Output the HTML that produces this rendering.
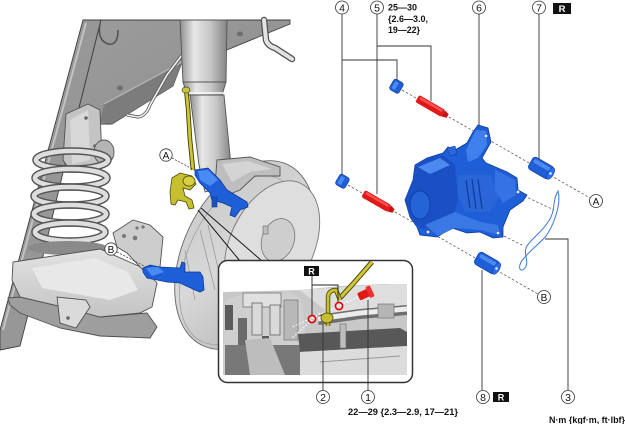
<!DOCTYPE html>
<html><head><meta charset="utf-8"><style>
html,body{margin:0;padding:0;background:#fff;}
svg{display:block;}
text{font-family:"Liberation Sans",Arial,sans-serif;}
</style></head><body>
<svg width="625" height="424" viewBox="0 0 625 424" xmlns="http://www.w3.org/2000/svg">
<defs>
 <linearGradient id="strutG" x1="0" y1="0" x2="1" y2="0">
  <stop offset="0" stop-color="#8e8e8e"/><stop offset="0.3" stop-color="#e8e8e8"/><stop offset="0.65" stop-color="#c6c6c6"/><stop offset="1" stop-color="#858585"/>
 </linearGradient>
 <linearGradient id="frameG" x1="0" y1="0" x2="1" y2="1">
  <stop offset="0" stop-color="#9c9c9c"/><stop offset="1" stop-color="#8c8c8c"/>
 </linearGradient>
 <linearGradient id="shieldG" x1="0" y1="0" x2="1" y2="1">
  <stop offset="0" stop-color="#c6c6c6"/><stop offset="0.5" stop-color="#d8d8d8"/><stop offset="1" stop-color="#b4b4b4"/>
 </linearGradient>
 <linearGradient id="armG" x1="0" y1="0" x2="0" y2="1">
  <stop offset="0" stop-color="#e2e2e2"/><stop offset="1" stop-color="#c4c4c4"/>
 </linearGradient>
 <clipPath id="photoClip"><rect x="223" y="284" width="184" height="91"/></clipPath>
</defs>

<!-- frame wall -->
<polygon points="83,20 101,20 66,160 44,252 20,346 0,350 0,330" fill="#979797" stroke="#3e3e3e" stroke-width="0.9"/>
<line x1="86" y1="23" x2="3" y2="330" stroke="#c2c2c2" stroke-width="2"/>
<!-- frame body -->
<polygon points="101,20 290,20 290,24 222,52 182,62 173,86 112,124 98,124 66,160" fill="url(#frameG)" stroke="#3e3e3e" stroke-width="0.9"/>
<polygon points="182,62 173,86 112,124 100,122 104,104 160,74" fill="#7c7c7c"/>
<polyline points="104,104 160,74 182,62" fill="none" stroke="#b8b8b8" stroke-width="1.2"/>
<path d="M100,24 Q97,40 108,44 Q118,46 118,30" fill="none" stroke="#505050" stroke-width="1.5"/>
<ellipse cx="240" cy="34" rx="3" ry="2.5" fill="#6e6e6e"/>
<ellipse cx="120" cy="88" rx="3" ry="2.5" fill="#6e6e6e"/>
<path d="M264,20 L266,40 Q268,46 275,48 L292,59" fill="none" stroke="#505050" stroke-width="6.5" stroke-linecap="round"/>
<path d="M264,20 L266,40 Q268,46 275,48 L292,59" fill="none" stroke="#e2e2e2" stroke-width="4" stroke-linecap="round"/>
<path d="M182,55 L167,75 L150,105 Q146,116 138,117 L127,115" fill="none" stroke="#555" stroke-width="3.2"/>
<path d="M182,55 L167,75 L150,105 Q146,116 138,117 L127,115" fill="none" stroke="#f2f2f2" stroke-width="1.6"/>

<!-- spring tower bracket -->
<polygon points="66,114 88,104 100,110 102,160 94,168 70,170 63,160" fill="#c4c4c4" stroke="#505050" stroke-width="0.9"/>
<polygon points="70,120 88,110 90,160 72,164" fill="#d8d8d8"/>
<circle cx="86" cy="118" r="1.8" fill="#666"/><circle cx="95" cy="146" r="1.8" fill="#666"/>
<ellipse cx="104" cy="152" rx="10" ry="12" fill="#b4b4b4" stroke="#555" stroke-width="0.9"/>

<!-- spring -->
<g fill="none">
 <ellipse cx="72" cy="160" rx="36" ry="9" stroke="#555" stroke-width="7.5"/>
 <ellipse cx="72" cy="160" rx="36" ry="9" stroke="#dedede" stroke-width="4.6"/>
 <ellipse cx="71" cy="178" rx="36" ry="9" stroke="#555" stroke-width="7.5"/>
 <ellipse cx="71" cy="178" rx="36" ry="9" stroke="#dedede" stroke-width="4.6"/>
 <ellipse cx="70" cy="196" rx="36" ry="9" stroke="#555" stroke-width="7.5"/>
 <ellipse cx="70" cy="196" rx="36" ry="9" stroke="#dedede" stroke-width="4.6"/>
 <ellipse cx="70" cy="214" rx="36" ry="9" stroke="#555" stroke-width="7.5"/>
 <ellipse cx="70" cy="214" rx="36" ry="9" stroke="#dedede" stroke-width="4.6"/>
 <ellipse cx="70" cy="232" rx="35" ry="9" stroke="#555" stroke-width="7.5"/>
 <ellipse cx="70" cy="232" rx="35" ry="9" stroke="#dedede" stroke-width="4.6"/>
</g>
<ellipse cx="68" cy="248" rx="40" ry="7" fill="#8a8a8a"/>

<!-- lower arm -->
<polygon points="8,298 20,297 63,307 100,317 147,313 157,327 150,338 100,336 60,328 20,313 10,305" fill="#9e9e9e" stroke="#505050" stroke-width="0.9"/>
<polygon points="13,262 100,249 143,268 157,283 152,307 140,313 100,317 63,307 20,297 12,280" fill="url(#armG)" stroke="#505050" stroke-width="0.9"/>
<polygon points="32,268 95,258 128,272 138,290 110,300 42,288" fill="#e8e8e8"/>
<polygon points="57,297 60,323 76,328 90,307 86,300" fill="#dadada" stroke="#505050" stroke-width="0.9"/>
<circle cx="68" cy="318" r="1.8" fill="#666"/>
<polygon points="113,233 133,220 150,225 163,237 160,267 143,270 127,253 117,247" fill="#cdcdcd" stroke="#505050" stroke-width="0.9"/>
<circle cx="124" cy="236" r="2" fill="#777"/><circle cx="135" cy="238" r="2.3" fill="#777"/><circle cx="137" cy="228" r="1.6" fill="#777"/><circle cx="143" cy="227" r="1.6" fill="#777"/>

<!-- dust shield & rotor -->
<ellipse cx="245" cy="255" rx="62" ry="100" transform="rotate(25 245 255)" fill="url(#shieldG)" stroke="#666" stroke-width="0.9"/>
<ellipse cx="240" cy="260" rx="52" ry="90" transform="rotate(25 240 260)" fill="none" stroke="#a0a0a0" stroke-width="0.8"/>
<ellipse cx="272" cy="245" rx="42" ry="68" transform="rotate(25 272 245)" fill="#dedede" stroke="#777" stroke-width="0.9"/>
<ellipse cx="278" cy="240" rx="16" ry="22" transform="rotate(20 278 240)" fill="#cecece" stroke="#777" stroke-width="0.8"/>
<rect x="263" y="226" width="5" height="8" fill="#bdbdbd" stroke="#666" stroke-width="0.6"/>
<g stroke="#888" stroke-width="0.6">
 <line x1="200" y1="230" x2="215" y2="290"/><line x1="208" y1="225" x2="222" y2="285"/><line x1="185" y1="250" x2="195" y2="300"/>
</g>

<!-- strut -->
<polygon points="180,20 227,20 226,82 183,82" fill="url(#strutG)" stroke="#555" stroke-width="0.9"/>
<polygon points="183,82 226,82 222,95 187,95" fill="url(#strutG)" stroke="#555" stroke-width="0.9"/>
<line x1="186" y1="93" x2="223" y2="93" stroke="#fafafa" stroke-width="1.6"/>
<polygon points="190,95 224,95 231,165 222,188 205,192 199,165" fill="url(#strutG)" stroke="#555" stroke-width="0.9"/>
<polygon points="217,160 250,157 280,167 280,176 255,176 240,190 225,196 215,185" fill="#bebebe" stroke="#555" stroke-width="0.9"/>
<polygon points="222,164 248,161 272,169 250,172 232,182" fill="#d4d4d4"/>

<!-- yellow hose -->
<path d="M186,88 L188,108 L190,140 L193,170" fill="none" stroke="#3f3f00" stroke-width="4.6"/>
<path d="M186,88 L188,108 L190,140 L193,170" fill="none" stroke="#cdc43a" stroke-width="2.8"/>
<ellipse cx="186" cy="90" rx="4" ry="3" fill="#cdc43a" stroke="#444" stroke-width="0.7"/>
<polygon points="172,178 180,173 192,176 196,184 190,190 183,188 185,196 192,200 194,208 189,209 186,202 178,200 175,205 171,204 170,192" fill="#c8bf30" stroke="#4a4a10" stroke-width="0.8"/>
<ellipse cx="189" cy="181" rx="6" ry="5" fill="#d8d040" stroke="#4a4a10" stroke-width="0.8"/>

<!-- blue brackets -->
<polygon points="195,170 208,168 220,180 227,190 247,202 248,207 240,210 235,217 230,215 232,207 223,203 212,200 210,193 200,183 195,175" fill="#1e5fd8" stroke="#0c3a9a" stroke-width="0.8"/>
<polygon points="198,171 208,170 218,180 210,186 200,180" fill="#4a8af4"/>
<rect x="212" y="197" width="5" height="10" fill="#1a52c4" stroke="#0c3a9a" stroke-width="0.6"/>
<polygon points="143,268 150,265 160,267 180,268 182,262 185,263 185,272 200,272 203,277 204,290 200,292 195,290 180,283 167,282 157,280 147,278 143,272" fill="#1e5fd8" stroke="#0c3a9a" stroke-width="0.8"/>
<polygon points="146,268 158,267 164,272 152,276" fill="#4a8af4"/>

<line x1="172" y1="158" x2="196" y2="171" stroke="#444" stroke-width="0.8" stroke-dasharray="2 1.5"/>
<line x1="117" y1="252" x2="146" y2="267" stroke="#444" stroke-width="0.8" stroke-dasharray="2 1.5"/>
<circle cx="166" cy="155" r="6.2" fill="#fff" stroke="#333" stroke-width="0.8"/>
<text x="166" y="159" font-size="10" text-anchor="middle" fill="#111">A</text>
<circle cx="111" cy="249" r="6.2" fill="#fff" stroke="#333" stroke-width="0.8"/>
<text x="111" y="253" font-size="10" text-anchor="middle" fill="#111">B</text>

<line x1="198" y1="210" x2="240" y2="261" stroke="#1a1a1a" stroke-width="1"/>
<line x1="201" y1="208" x2="262" y2="261" stroke="#1a1a1a" stroke-width="1"/>

<!-- INSET -->
<rect x="218.5" y="260.5" width="194" height="122" rx="9" fill="#fff" stroke="#333" stroke-width="1.5"/>
<g clip-path="url(#photoClip)">
 <polygon points="223,292 300,290 340,286 407,283 407,375 223,375" fill="#c8c8c8"/>
 <polygon points="300,290 407,283 407,312 330,314" fill="#dedede"/>
 <polygon points="225,300 250,292 290,292 302,300 306,340 296,375 223,375" fill="#cfcfcf"/>
 <rect x="243" y="293" width="38" height="14" fill="#e0e0e0" stroke="#666" stroke-width="0.7"/>
 <rect x="252" y="303" width="10" height="32" fill="#d9d9d9" stroke="#555" stroke-width="0.7"/>
 <rect x="270" y="305" width="10" height="30" fill="#d9d9d9" stroke="#555" stroke-width="0.7"/>
 <rect x="225" y="305" width="8" height="25" fill="#5c5c5c"/>
 <rect x="238" y="318" width="9" height="40" fill="#6a6a6a"/>
 <rect x="262" y="336" width="7" height="39" fill="#5a5a5a"/>
 <polygon points="225,345 300,345 305,375 225,375" fill="#787878"/>
 <polygon points="245,340 270,338 285,375 250,375" fill="#bdbdbd"/>
 <rect x="284" y="300" width="14" height="40" fill="#b8b8b8" stroke="#666" stroke-width="0.6"/>
 <polygon points="298,334 400,328 407,332 407,346 300,352" fill="#585858"/>
 <polygon points="300,352 407,346 407,375 300,375" fill="#dcdcdc"/>
 <line x1="320" y1="362" x2="400" y2="356" stroke="#999" stroke-width="1"/>
 <path d="M318,320 L360,314 L407,310" fill="none" stroke="#6e6e6e" stroke-width="10"/>
 <path d="M318,319 L360,313 L407,309" fill="none" stroke="#ececec" stroke-width="5"/>
 <rect x="378" y="304" width="16" height="14" fill="#b5b5b5" stroke="#666" stroke-width="0.6"/>
 <rect x="340" y="324" width="6" height="24" fill="#bdbdbd" stroke="#666" stroke-width="0.6"/>
</g>
<line x1="358" y1="297" x2="292" y2="327" stroke="#fff" stroke-width="0.9" stroke-dasharray="2 1.5"/>
<line x1="320" y1="313" x2="292" y2="338" stroke="#fff" stroke-width="0.9" stroke-dasharray="2 1.5"/>
<path d="M340,298 L352,285 L372,262" fill="none" stroke="#3f3f00" stroke-width="5"/>
<path d="M340,298 L352,285 L372,262" fill="none" stroke="#cdc43a" stroke-width="3.2"/>
<path d="M328,326 L328,298 Q328,290 336,290 L340,300" fill="none" stroke="#4a4a10" stroke-width="4.5"/>
<path d="M328,326 L328,298 Q328,290 336,290 L340,300" fill="none" stroke="#c8bf30" stroke-width="2.8"/>
<ellipse cx="327" cy="318" rx="6" ry="5" fill="#c8bf30" stroke="#4a4a10" stroke-width="0.8"/>
<g transform="translate(365,294) rotate(-25)">
 <rect x="-7" y="-4" width="13" height="8" rx="1.5" fill="#e01818"/>
 <rect x="3" y="-6" width="5" height="12" rx="1.5" fill="#f03030"/>
</g>
<circle cx="312" cy="319" r="3.6" fill="none" stroke="#e00000" stroke-width="1.6"/>
<circle cx="339" cy="306" r="3.6" fill="none" stroke="#e00000" stroke-width="1.6"/>
<polyline points="312,276 312,315" fill="none" stroke="#222" stroke-width="0.9"/>
<polyline points="312,285 338,285 338,302" fill="none" stroke="#222" stroke-width="0.9"/>
<rect x="304" y="266" width="15" height="10" fill="#111"/>
<text x="311.5" y="274.5" font-size="9" font-weight="bold" text-anchor="middle" fill="#fff">R</text>

<line x1="323" y1="324" x2="323" y2="390.5" stroke="#333" stroke-width="0.9"/>
<line x1="368" y1="300" x2="368" y2="390.5" stroke="#333" stroke-width="0.9"/>

<!-- RIGHT EXPLODED VIEW -->
<g stroke="#555" stroke-width="0.75" stroke-dasharray="2.5 2" fill="none">
 <line x1="402" y1="90" x2="590" y2="198"/>
 <line x1="348" y1="185" x2="538" y2="294"/>
 <line x1="520" y1="194" x2="554" y2="210"/>
 <line x1="500" y1="234" x2="522" y2="245"/>
</g>
<g stroke="#333" stroke-width="0.9" fill="none">
 <polyline points="342,14 342,177"/>
 <polyline points="342,60 397,60 397,80"/>
 <polyline points="377,14 377,194"/>
 <polyline points="377,46 431,46 431,101"/>
 <polyline points="479,14 479,126"/>
 <polyline points="539,14 539,160"/>
 <polyline points="482,390 482,270"/>
 <polyline points="568,390 568,239 545,239"/>
</g>

<g transform="translate(396,86) rotate(30)">
 <rect x="-5" y="-6" width="11" height="12" rx="2.5" fill="#1e5fd8" stroke="#0c3a9a" stroke-width="0.6"/>
 <rect x="-3" y="-4" width="4" height="8" fill="#4a8af4"/>
</g>
<g transform="translate(342,181) rotate(30)">
 <rect x="-5" y="-6" width="11" height="12" rx="2.5" fill="#1e5fd8" stroke="#0c3a9a" stroke-width="0.6"/>
 <rect x="-3" y="-4" width="4" height="8" fill="#4a8af4"/>
</g>
<g transform="translate(432,107) rotate(30)">
 <rect x="-17" y="-4" width="30" height="8" rx="2" fill="#e01818"/>
 <polygon points="13,-3.5 18,-2 18,2 13,3.5" fill="#c81010"/>
 <rect x="-15" y="-3" width="26" height="2.5" fill="#ff5050"/>
</g>
<g transform="translate(378,202) rotate(30)">
 <rect x="-17" y="-4" width="30" height="8" rx="2" fill="#e01818"/>
 <polygon points="13,-3.5 18,-2 18,2 13,3.5" fill="#c81010"/>
 <rect x="-15" y="-3" width="26" height="2.5" fill="#ff5050"/>
</g>

<!-- caliper -->
<polygon points="478,125 488,128 491,142 482,158 486,163 507,172 517,178 518,190 527,195 523,201 510,210 503,227 503,237 493,238 480,232 467,233 452,228 437,237 420,235 417,227 410,217 405,200 413,180 415,165 427,158 443,153 448,147 455,150 467,143 473,132" fill="#1e5fd8" stroke="#0c3a9a" stroke-width="0.8"/>
<polygon points="413,180 415,165 427,158 443,155 455,165 458,200 452,222 437,230 420,228 410,217 405,200" fill="#1a50c4"/>
<polygon points="418,167 440,158 450,165 430,174" fill="#4d8af0"/>
<ellipse cx="420" cy="205" rx="10" ry="14" fill="#2464d8" stroke="#0e3c9e" stroke-width="0.7"/>
<polygon points="476,130 486,131 487,145 478,158 468,162 466,150" fill="#3f80ee"/>
<polygon points="458,175 490,175 500,195 490,212 465,212 458,195" fill="#2a66d8"/>
<g stroke="#103a9a" stroke-width="1.2">
 <line x1="466" y1="180" x2="470" y2="208"/><line x1="472" y1="179" x2="476" y2="209"/><line x1="478" y1="179" x2="482" y2="209"/>
</g>
<polygon points="495,170 515,180 516,195 503,203 495,190" fill="#3572e4"/>
<polygon points="425,225 455,212 480,222 498,225 500,235 480,230 455,228 438,236" fill="#3a78e6"/>
<polygon points="447,148 455,146 457,154 450,156" fill="#2a66d8" stroke="#0c3a9a" stroke-width="0.5"/>
<g fill="#dfe9ff" stroke="#0c3a9a" stroke-width="0.5">
 <circle cx="486" cy="136" r="1.8"/><circle cx="518" cy="192" r="1.8"/><circle cx="428" cy="232" r="1.8"/><circle cx="498" cy="233" r="1.8"/>
</g>

<g transform="translate(541,168) rotate(30)">
 <rect x="-12" y="-7" width="24" height="14" rx="3.5" fill="#1e5fd8" stroke="#0c3a9a" stroke-width="0.6"/>
 <rect x="-10" y="-5" width="19" height="4" rx="2" fill="#4d8af0"/>
 <ellipse cx="11" cy="0" rx="3" ry="6.5" fill="#2a6cf0" stroke="#0c3a9a" stroke-width="0.5"/>
 <circle cx="11" cy="0" r="1.3" fill="#dfe9ff"/>
</g>
<g transform="translate(487,263) rotate(30)">
 <rect x="-12" y="-7" width="24" height="14" rx="3.5" fill="#1e5fd8" stroke="#0c3a9a" stroke-width="0.6"/>
 <rect x="-10" y="-5" width="19" height="4" rx="2" fill="#4d8af0"/>
 <ellipse cx="11" cy="0" rx="3" ry="6.5" fill="#2a6cf0" stroke="#0c3a9a" stroke-width="0.5"/>
 <circle cx="11" cy="0" r="1.3" fill="#dfe9ff"/>
</g>

<path d="M558,191 C552,200 556,212 548,222 C542,232 532,238 527,246 C522,254 531,262 524,269 C519,273 517,265 525,257 C533,248 541,242 546,236 C552,228 562,205 558,191 Z" fill="none" stroke="#3a7ad8" stroke-width="1"/>

<circle cx="596" cy="201" r="6.5" fill="#fff" stroke="#333" stroke-width="0.8"/>
<text x="596" y="205" font-size="10" text-anchor="middle" fill="#111">A</text>
<circle cx="544" cy="297" r="6.5" fill="#fff" stroke="#333" stroke-width="0.8"/>
<text x="544" y="301" font-size="10" text-anchor="middle" fill="#111">B</text>

<g font-size="10.5" text-anchor="middle" fill="#111">
 <circle cx="342" cy="7.5" r="6.5" fill="#fff" stroke="#333" stroke-width="0.8"/><text x="342" y="11.5">4</text>
 <circle cx="377" cy="7.5" r="6.5" fill="#fff" stroke="#333" stroke-width="0.8"/><text x="377" y="11.5">5</text>
 <circle cx="479" cy="7.5" r="6.5" fill="#fff" stroke="#333" stroke-width="0.8"/><text x="479" y="11.5">6</text>
 <circle cx="539" cy="7.5" r="6.5" fill="#fff" stroke="#333" stroke-width="0.8"/><text x="539" y="11.5">7</text>
 <circle cx="323" cy="397" r="6.5" fill="#fff" stroke="#333" stroke-width="0.8"/><text x="323" y="401">2</text>
 <circle cx="368" cy="397" r="6.5" fill="#fff" stroke="#333" stroke-width="0.8"/><text x="368" y="401">1</text>
 <circle cx="483" cy="397" r="6.5" fill="#fff" stroke="#333" stroke-width="0.8"/><text x="483" y="401">8</text>
 <circle cx="568" cy="397" r="6.5" fill="#fff" stroke="#333" stroke-width="0.8"/><text x="568" y="401">3</text>
</g>
<rect x="553" y="3" width="18" height="11" fill="#111"/>
<text x="562" y="12" font-size="9.5" font-weight="bold" text-anchor="middle" fill="#fff">R</text>
<rect x="493" y="392" width="16" height="10" fill="#111"/>
<text x="501" y="400.5" font-size="9" font-weight="bold" text-anchor="middle" fill="#fff">R</text>

<g font-size="8.8" font-weight="bold" fill="#111">
 <text x="388" y="10.5" textLength="29" lengthAdjust="spacingAndGlyphs">25—30</text>
 <text x="388" y="22" textLength="40" lengthAdjust="spacingAndGlyphs">{2.6—3.0,</text>
 <text x="388" y="33" textLength="32" lengthAdjust="spacingAndGlyphs">19—22}</text>
 <text x="348" y="415" textLength="110" lengthAdjust="spacingAndGlyphs">22—29 {2.3—2.9, 17—21}</text>
 <text x="549" y="423" textLength="76" lengthAdjust="spacingAndGlyphs">N·m {kgf·m, ft·lbf}</text>
</g>
</svg>
</body></html>
